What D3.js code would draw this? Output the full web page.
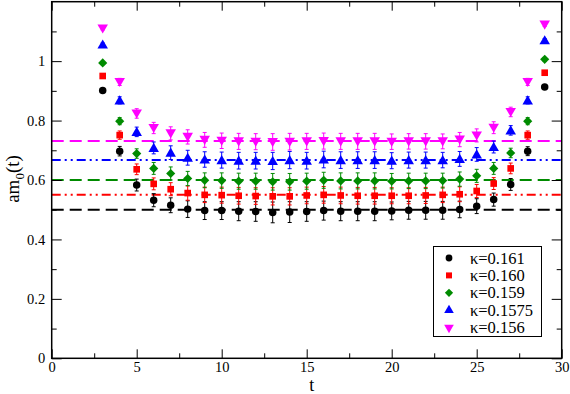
<!DOCTYPE html>
<html>
<head>
<meta charset="utf-8">
<script src="https://cdn.jsdelivr.net/npm/d3@7"></script>
<style>
  body { margin: 0; background: #fff; }
  svg text { font-family: "Liberation Serif", "DejaVu Serif", serif; fill: #000; }
  .axis path { display: none; }
  .axis line { stroke: #000; stroke-width: 1; }
</style>
</head>
<body>
<svg id="chart" width="570" height="394"></svg>
<script>
// time slices
var tValues = [3, 4, 5, 6, 7, 8, 9, 10, 11, 12, 13, 14, 15, 16, 17, 18, 19, 20, 21, 22, 23, 24, 25, 26, 27, 28, 29];

var kappaLabels = ['κ=0.161', 'κ=0.160', 'κ=0.159', 'κ=0.1575', 'κ=0.156'];

var am161 = [0.901, 0.697, 0.583, 0.532, 0.515, 0.502, 0.497, 0.497, 0.495, 0.494, 0.491, 0.492, 0.494, 0.497, 0.495, 0.495, 0.495, 0.496, 0.498, 0.498, 0.498, 0.501, 0.512, 0.534, 0.585, 0.697, 0.913];
var am160 = [0.950, 0.751, 0.636, 0.587, 0.569, 0.556, 0.550, 0.549, 0.547, 0.546, 0.545, 0.545, 0.548, 0.550, 0.548, 0.547, 0.547, 0.547, 0.547, 0.548, 0.550, 0.552, 0.563, 0.588, 0.639, 0.751, 0.961];
var am159 = [0.994, 0.798, 0.689, 0.639, 0.622, 0.605, 0.599, 0.598, 0.596, 0.596, 0.594, 0.594, 0.596, 0.599, 0.597, 0.597, 0.597, 0.596, 0.597, 0.597, 0.598, 0.603, 0.614, 0.639, 0.691, 0.798, 1.006];
var am1575 = [1.056, 0.868, 0.762, 0.708, 0.692, 0.675, 0.669, 0.667, 0.665, 0.665, 0.664, 0.667, 0.665, 0.669, 0.667, 0.667, 0.667, 0.665, 0.667, 0.667, 0.667, 0.671, 0.686, 0.711, 0.767, 0.868, 1.070];
var am156 = [1.110, 0.930, 0.824, 0.775, 0.757, 0.745, 0.735, 0.732, 0.730, 0.729, 0.728, 0.729, 0.730, 0.731, 0.730, 0.730, 0.730, 0.729, 0.730, 0.730, 0.730, 0.736, 0.750, 0.776, 0.829, 0.930, 1.123];

var err161 = [0.005, 0.016, 0.020, 0.022, 0.025, 0.028, 0.030, 0.030, 0.032, 0.033, 0.035, 0.035, 0.033, 0.032, 0.032, 0.032, 0.032, 0.030, 0.030, 0.030, 0.030, 0.028, 0.025, 0.022, 0.020, 0.015, 0.008];
var err160 = [0.005, 0.014, 0.018, 0.020, 0.022, 0.024, 0.026, 0.027, 0.028, 0.028, 0.029, 0.029, 0.028, 0.028, 0.028, 0.028, 0.028, 0.027, 0.027, 0.027, 0.026, 0.025, 0.022, 0.020, 0.018, 0.014, 0.006];
var err159 = [0.005, 0.012, 0.016, 0.020, 0.022, 0.024, 0.025, 0.026, 0.027, 0.027, 0.028, 0.028, 0.027, 0.027, 0.027, 0.027, 0.027, 0.026, 0.026, 0.026, 0.025, 0.024, 0.022, 0.020, 0.016, 0.012, 0.006];
var err1575 = [0.005, 0.012, 0.016, 0.020, 0.023, 0.025, 0.026, 0.027, 0.028, 0.028, 0.029, 0.029, 0.028, 0.028, 0.028, 0.028, 0.028, 0.027, 0.027, 0.027, 0.026, 0.025, 0.023, 0.020, 0.016, 0.012, 0.006];
var err156 = [0.005, 0.012, 0.016, 0.019, 0.022, 0.024, 0.025, 0.026, 0.027, 0.027, 0.028, 0.028, 0.027, 0.027, 0.027, 0.027, 0.027, 0.026, 0.026, 0.026, 0.025, 0.024, 0.022, 0.020, 0.016, 0.012, 0.006];

// plateau fits
var fitLevels = [0.5, 0.55, 0.6, 0.667, 0.731];

var xMajor = [0, 5, 10, 15, 20, 25, 30],
    xMinor = [2.5, 7.5, 12.5, 17.5, 22.5, 27.5],
    yMajor = [0, 0.2, 0.4, 0.6, 0.8, 1],
    yMinor = [0.1, 0.3, 0.5, 0.7, 0.9, 1.1];

// diamond = square turned 45 degrees
var colors = ['#000000', '#ff0000', '#008b00', '#0000ff', '#ff00ff'],
    symbols = [d3.symbolCircle, d3.symbolSquare, d3.symbolSquare, d3.symbolTriangle, d3.symbolTriangle],
    symbolSizes = [44, 44, 42, 48, 48],
    symbolRotate = [0, 0, 45, 0, 180],
    dashes = ['12,6', '9,4,2,4,2,4', '12,6', '9,4,2,4,2,4', '12,6'];

var seriesValues = [am161, am160, am159, am1575, am156],
    seriesErrors = [err161, err160, err159, err1575, err156];

var serif = '"Liberation Serif", "DejaVu Serif", serif';

var svg = d3.select('#chart'),
    plotLeft = 51.7,
    plotRight = 561.7,
    plotTop = 1.7,
    plotBottom = 358.3;

var x = d3.scaleLinear().domain([0, 30]).range([plotLeft, plotRight]),
    y = d3.scaleLinear().domain([0, 1.2]).range([plotBottom, plotTop]);

// fit lines, drawn under the points
fitLevels.forEach(function(v, i){
  svg.append('line')
     .attr('x1', x(0))
     .attr('x2', x(30))
     .attr('y1', y(v))
     .attr('y2', y(v))
     .attr('stroke', colors[i])
     .attr('stroke-width', 2)
     .attr('stroke-dasharray', dashes[i]);
});

// error bars and symbols
seriesValues.forEach(function(vals, s){
  var g = svg.append('g').attr('class', 'series'),
      errs = seriesErrors[s];

  tValues.forEach(function(t, i){
    var cx = x(t),
        lo = y(vals[i] - errs[i]),
        hi = y(vals[i] + errs[i]);
    g.append('line')
     .attr('x1', cx).attr('x2', cx)
     .attr('y1', lo).attr('y2', hi)
     .attr('stroke', colors[s]).attr('stroke-width', 1);
    g.append('line')
     .attr('x1', cx - 2).attr('x2', cx + 2)
     .attr('y1', lo).attr('y2', lo)
     .attr('stroke', colors[s]).attr('stroke-width', 1);
    g.append('line')
     .attr('x1', cx - 2).attr('x2', cx + 2)
     .attr('y1', hi).attr('y2', hi)
     .attr('stroke', colors[s]).attr('stroke-width', 1);
  });

  g.selectAll('path.pt')
   .data(vals)
   .enter()
   .append('path')
   .attr('class', 'pt')
   .attr('d', d3.symbol().type(symbols[s]).size(symbolSizes[s]))
   .attr('transform', function(d, i){
     var dy = s >= 3 ? (s === 3 ? 1 : -1) : 0;
     return 'translate(' + x(tValues[i]) + ',' + (y(d) + dy) + ') rotate(' + symbolRotate[s] + ')';
   })
   .attr('fill', colors[s]);
});

// axes, ticks pointing inwards
svg.append('g')
   .attr('class', 'axis')
   .attr('transform', 'translate(0,' + plotBottom + ')')
   .call(d3.axisBottom(x).tickValues(xMajor).tickSize(-9).tickPadding(3.5).tickFormat(function(d){ return d; }))
   .attr('font-family', serif)
   .selectAll('text')
   .attr('font-size', 14.5);

svg.append('g')
   .attr('class', 'axis')
   .attr('transform', 'translate(0,' + plotBottom + ')')
   .call(d3.axisBottom(x).tickValues(xMinor).tickSize(-5).tickFormat(''));

svg.append('g')
   .attr('class', 'axis')
   .attr('transform', 'translate(0,' + plotTop + ')')
   .call(d3.axisTop(x).tickValues(xMajor).tickSize(-9).tickFormat(''));

svg.append('g')
   .attr('class', 'axis')
   .attr('transform', 'translate(0,' + plotTop + ')')
   .call(d3.axisTop(x).tickValues(xMinor).tickSize(-5).tickFormat(''));

svg.append('g')
   .attr('class', 'axis')
   .attr('transform', 'translate(' + plotLeft + ',0)')
   .call(d3.axisLeft(y).tickValues(yMajor).tickSize(-10).tickPadding(6.5).tickFormat(function(d){ return d; }))
   .attr('font-family', serif)
   .selectAll('text')
   .attr('font-size', 14.5);

svg.append('g')
   .attr('class', 'axis')
   .attr('transform', 'translate(' + plotLeft + ',0)')
   .call(d3.axisLeft(y).tickValues(yMinor).tickSize(-5).tickFormat(''));

svg.append('g')
   .attr('class', 'axis')
   .attr('transform', 'translate(' + plotRight + ',0)')
   .call(d3.axisRight(y).tickValues(yMajor).tickSize(-10).tickFormat(''));

svg.append('g')
   .attr('class', 'axis')
   .attr('transform', 'translate(' + plotRight + ',0)')
   .call(d3.axisRight(y).tickValues(yMinor).tickSize(-5).tickFormat(''));

// frame
svg.append('rect')
   .attr('x', plotLeft)
   .attr('y', plotTop)
   .attr('width', plotRight - plotLeft)
   .attr('height', plotBottom - plotTop)
   .attr('fill', 'none')
   .attr('stroke', '#000')
   .attr('stroke-width', 1.5);

// axis titles
svg.append('text')
   .text('t')
   .attr('x', (plotLeft + plotRight) / 2 + 5)
   .attr('y', 391)
   .attr('text-anchor', 'middle')
   .attr('font-family', serif)
   .attr('font-size', 18);

var ylab = svg.append('text')
   .attr('transform', 'translate(19,' + 179 + ') rotate(-90)')
   .attr('text-anchor', 'middle')
   .attr('font-family', serif)
   .attr('font-size', 19);
ylab.append('tspan').text('am');
ylab.append('tspan').text('0').attr('font-size', 13).attr('dy', 5);
ylab.append('tspan').text('(t)').attr('dy', -5);

// legend
var legend = svg.append('g').attr('class', 'legend');

legend.append('rect')
   .attr('x', 433.5)
   .attr('y', 246.5)
   .attr('width', 108)
   .attr('height', 90)
   .attr('fill', '#fff')
   .attr('stroke', '#000')
   .attr('stroke-width', 1);

kappaLabels.forEach(function(label, i){
  var ly = 258 + i * 17.4;
  legend.append('path')
     .attr('d', d3.symbol().type(symbols[i]).size(symbolSizes[i] - 8))
     .attr('transform', 'translate(449,' + ly + ') rotate(' + symbolRotate[i] + ')')
     .attr('fill', colors[i]);
  legend.append('text')
     .text(label)
     .attr('x', 470)
     .attr('y', ly + 5.5)
     .attr('font-family', serif)
     .attr('font-size', 16.5);
});
</script>
</body>
</html>
